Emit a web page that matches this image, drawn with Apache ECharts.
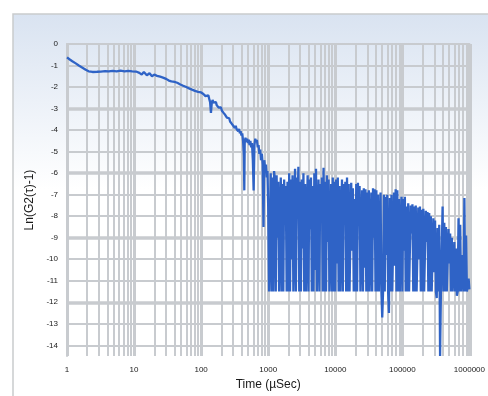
<!DOCTYPE html>
<html>
<head>
<meta charset="utf-8">
<script src="https://cdn.jsdelivr.net/npm/echarts@6/dist/echarts.min.js"></script>
<style>html,body{margin:0;padding:0;background:#fff;}#c{width:488px;height:396px;}</style>
</head>
<body>
<div id="c"></div>
<script>
// Time (µSec)
const times = [
 1,1.1,1.2,1.35,1.5,1.7,1.9,2.1,2.4,2.8,3.2,3.7,4.2,4.8,5.5,6.3,7.2,8.2,9.4,10.7,
 12,13,14,15.5,17,18.5,20,22,24.5,27,30,33,36,40,44,49,54,60,66,73,81,90,
 100,104,108,112,116,120,124,128,132,136,140,144,148,153,157,162,166,171,176,182,187,193,198,204,210,216,222,229,235,242,248,255,262,270,277,285,293,301,310,319,328,337,347,357,367,378,388,399,410,422,434,440,446,458,471,484,498,512,527,542,557,573,590,606,623,641,660,678,698,718,738,760,781,804,827,850,874,899,925,951,975,
 1000,1029,1059,1090,1122,1155,1189,1223,1259,1296,1334,1372,1413,1454,1496,1540,1585,1631,1679,1728,1778,1830,1884,1939,1995,2054,2113,2175,2239,2304,2371,2441,2512,2585,2661,2738,2818,2901,2985,3073,3162,3255,3350,3447,3548,3652,3758,3868,3981,4097,4217,4340,4467,4597,4732,4870,5012,5158,5309,5464,5623,5788,5957,6131,6310,6494,6683,6879,7079,7286,7499,7718,7943,8175,8414,8660,8913,9173,9441,9716,
 10000,10290,10590,10900,11220,11550,11890,12230,12590,12960,13340,13720,14130,14540,14960,15400,15850,16310,16790,17280,17780,18300,18840,19390,19950,20540,21130,21750,22390,23040,23710,24410,25120,25850,26610,27380,28180,29010,29850,30730,31620,32550,33500,34470,35480,36520,37580,38680,39810,40970,42170,43400,44670,45970,47320,48700,50120,51580,53090,54640,56230,57880,59570,61310,63100,64940,66830,68790,70790,72860,74990,77180,79430,81750,84140,86600,89130,91730,94410,97160,
 100000,102900,105900,109000,112200,115500,118900,122300,125900,129600,133400,137200,141300,145400,149600,154000,158500,163100,167900,172800,177800,183000,188400,193900,199500,205400,211300,217500,223900,230400,237100,244100,251200,258500,266100,273800,281800,290100,298500,307300,316200,325500,335000,344700,354800,365200,375800,386800,398100,409700,421700,434000,446700,459700,473200,487000,501200,515800,530900,546400,562300,578800,595700,613100,631000,649400,668300,687900,707900,728600,749900,771800,794300,817500,841400,866000,891300,917300,944100,971600,1000000
];
// Ln(G2(τ)-1)
const lnG2 = [
 -0.62,-0.72,-0.8,-0.9,-1.0,-1.1,-1.2,-1.27,-1.3,-1.29,-1.28,-1.26,-1.27,-1.25,-1.27,-1.24,-1.27,-1.25,-1.27,-1.28,
 -1.34,-1.42,-1.3,-1.45,-1.36,-1.5,-1.42,-1.48,-1.52,-1.56,-1.62,-1.7,-1.74,-1.76,-1.8,-1.88,-1.94,-2.0,-2.06,-2.12,-2.18,-2.22,
 -2.25,-2.2,-2.32,-2.27,-2.42,-2.35,-2.45,-2.38,-2.55,-2.7,-3.2,-2.75,-2.6,-2.72,-2.65,-2.78,-2.7,-2.85,-2.8,-2.95,-2.88,-3.0,-2.95,-3.1,-3.05,-3.2,-3.15,-3.3,-3.28,-3.42,-3.35,-3.5,-3.45,-3.6,-3.55,-3.7,-3.62,-3.8,-3.72,-3.9,-3.8,-3.95,-3.88,-4.05,-3.95,-4.15,-4.05,-4.25,-4.15,-4.5,-5.2,-6.8,-4.6,-4.35,-4.55,-4.4,-4.6,-4.45,-4.7,-4.5,-4.8,-4.6,-5.4,-6.8,-4.7,-4.4,-4.55,-4.45,-4.8,-4.7,-5.1,-4.9,-5.4,-5.1,-5.6,-8.5,-5.4,-5.8,-5.6,-6.2,-5.9,
 -7.6,-11.5,-11.5,-6.0,-11.5,-6.2,-11.5,-5.9,-6.3,-11.5,-6.1,-9.0,-6.4,-11.5,-11.5,-6.2,-11.5,-6.5,-11.5,-6.3,-8.2,-6.6,-11.5,-6.4,-11.5,-6.0,-11.5,-6.3,-10.0,-6.1,-11.5,-11.5,-5.8,-11.5,-6.2,-7.5,-5.7,-11.5,-6.4,-11.5,
 -6.3,-9.5,-6.0,-11.5,-6.5,-11.5,-11.5,-6.1,-11.5,-6.3,-8.6,-6.2,-11.5,-6.6,-11.5,-6.0,-10.5,-5.8,-11.5,-11.5,-6.3,-11.5,-6.5,-7.8,-6.2,-11.5,-5.75,-11.5,-6.4,-11.5,-6.1,-9.2,-6.3,-11.5,-11.5,-6.5,-11.5,-6.2,-11.5,-6.4,
 -11.5,-6.3,-10.2,-6.2,-11.5,-6.6,-11.5,-11.5,-6.3,-11.5,-6.5,-8.4,-6.4,-11.5,-6.2,-11.5,-6.5,-11.5,-11.5,-6.45,-9.6,-6.7,-11.5,-7.2,-11.5,-6.5,-11.5,-6.45,-8.0,-6.6,-11.5,-11.5,-6.8,-11.5,-6.7,-10.4,-6.75,-11.5,-6.9,-11.5,
 -6.8,-11.5,-11.5,-6.9,-11.5,-6.7,-9.0,-6.75,-11.5,-6.8,-11.5,-7.0,-11.5,-11.5,-6.9,-11.5,-12.7,-11.5,-7.0,-11.5,-7.1,-9.8,-7.0,-11.5,-12.5,-7.15,-11.5,-7.0,-11.5,-11.5,-6.9,-10.3,-6.75,-11.5,-6.8,-11.5,-7.2,-11.5,-11.5,-7.1,
 -11.5,-7.2,-9.6,-7.1,-11.5,-7.55,-11.5,-7.4,-11.5,-11.5,-7.5,-8.8,-7.45,-11.5,-7.55,-11.5,-7.5,-11.5,-11.5,-7.6,-10.0,-7.55,-11.5,-7.7,-11.5,-7.65,-11.5,-11.5,-7.75,-9.2,-7.8,-11.5,-7.85,-11.5,-8.0,-11.5,-11.5,-8.1,-10.6,-8.2,
 -11.5,-11.8,-8.55,-11.5,-8.4,-14.5,-11.5,-11.5,-7.55,-11.5,-8.3,-11.5,-8.5,-11.5,-11.5,-8.6,-10.2,-8.8,-11.5,-9.0,-11.5,-11.5,-9.2,-11.5,-9.5,-11.7,-11.5,-8.1,-11.5,-8.4,-11.5,-11.5,-9.8,-11.5,-7.15,-11.5,-8.9,-11.5,-11.5,-10.9,-11.4
];
const xTickLabels = ['1','10','100','1000','10000','100000','1000000'];
const decades = [1,10,100,1000,10000,100000];
const minorMultipliers = [2,3,4,5,6,7,8,9];
const yMajorLines = [0,-1,-2,-3,-4,-5,-6,-7,-8,-9,-10,-11,-12,-13,-14];
const yHeavyLines = [-3,-6,-9,-12];

const gridColor = '#c8cbcf';
const seriesData = times.map((t, i) => [t, lnG2[i]]);

const lines = [];
decades.forEach(d => minorMultipliers.forEach(m => lines.push({xAxis: d * m, lineStyle: {width: 2, color: gridColor, type: 'solid'}})));
yMajorLines.forEach(v => lines.push({yAxis: v, lineStyle: {width: 2, color: gridColor, type: 'solid'}}));
yHeavyLines.forEach(v => lines.push({yAxis: v, lineStyle: {width: 3.5, color: gridColor, type: 'solid'}}));
lines.push({xAxis: 1000000, lineStyle: {width: 4, color: gridColor, type: 'solid'}});

const chart = echarts.init(document.getElementById('c'), null, {renderer: 'canvas'});
chart.setOption({
  animation: false,
  backgroundColor: '#ffffff',
  graphic: [
    {type: 'rect', z: -10, silent: true, shape: {x: 13, y: 14, width: 480, height: 390},
     style: {fill: new echarts.graphic.LinearGradient(0, 0, 0, 1, [
       {offset: 0, color: '#d9e3f1'}, {offset: 0.45, color: '#ffffff'}, {offset: 1, color: '#ffffff'}]),
       stroke: '#c9cbcd', lineWidth: 1.5}}
  ],
  grid: {left: 67, right: 17, top: 44, bottom: 39, containLabel: false},
  xAxis: {
    type: 'log', logBase: 10, min: 1, max: 1000000,
    name: 'Time (µSec)', nameLocation: 'middle', nameGap: 22,
    nameTextStyle: {fontFamily: 'Liberation Sans', fontSize: 12, color: '#1a1a1a'},
    axisLine: {show: true, lineStyle: {color: gridColor, width: 2}},
    axisTick: {show: false},
    axisLabel: {fontFamily: 'Liberation Sans', fontSize: 8, color: '#1a1a1a', margin: 10,
      formatter: v => { const k = Math.round(Math.log10(v)); return xTickLabels[k] || ''; }},
    splitLine: {show: true, lineStyle: {color: gridColor, width: 3}}
  },
  yAxis: {
    type: 'value', min: -14.5, max: 0, interval: 0.5,
    name: 'Ln(G2(τ)-1)', nameLocation: 'middle', nameGap: 26, nameRotate: 90,
    nameTextStyle: {fontFamily: 'Liberation Sans', fontSize: 12, color: '#1a1a1a'},
    axisLine: {show: true, lineStyle: {color: gridColor, width: 2}},
    axisTick: {show: false},
    axisLabel: {fontFamily: 'Liberation Sans', fontSize: 8, color: '#1a1a1a', margin: 9,
      formatter: v => (Math.abs(v - Math.round(v)) < 1e-9 ? String(Math.round(v)) : '')},
    splitLine: {show: false}
  },
  series: [
    {type: 'line', data: [[1, 0]], showSymbol: false, symbol: 'none', lineStyle: {opacity: 0}, silent: true, z: 1,
     clip: false,
     markLine: {silent: true, symbol: ['none', 'none'], label: {show: false}, animation: false, data: lines}},
    {type: 'line', data: seriesData, showSymbol: false, symbol: 'none', z: 5,
     lineStyle: {color: '#2f63c6', width: 2.3}}
  ]
});
</script>
</body>
</html>
